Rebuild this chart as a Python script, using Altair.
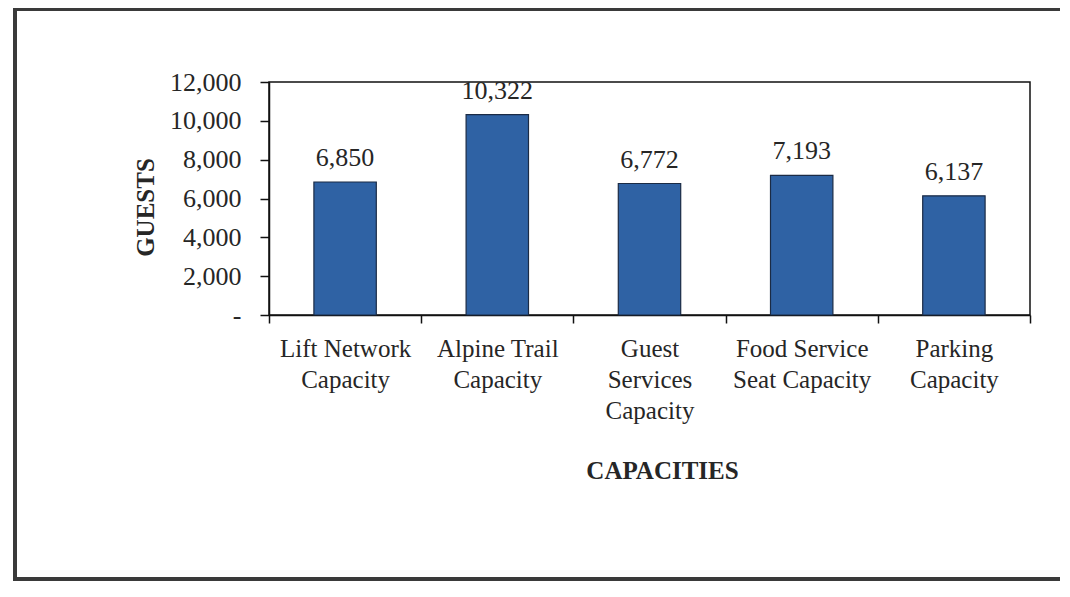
import altair as alt
import pandas as pd

categories = [
    "Lift Network|Capacity",
    "Alpine Trail|Capacity",
    "Guest|Services|Capacity",
    "Food Service|Seat Capacity",
    "Parking|Capacity",
]
guests = [6850, 10322, 6772, 7193, 6137]
y_ticks = [0, 2000, 4000, 6000, 8000, 10000, 12000]

df = pd.DataFrame({"cat": categories, "guests": guests})

FONT = "Liberation Serif"
TXT = "#262626"

x = alt.X(
    "cat:N",
    sort=categories,
    scale=alt.Scale(paddingInner=0, paddingOuter=0),
    axis=alt.Axis(
        title="CAPACITIES",
        labelAngle=0,
        labelExpr="split(datum.label, '|')",
        labelFont=FONT,
        labelFontSize=25,
        labelColor=TXT,
        labelLineHeight=31,
        labelPadding=13,
        labelBaseline="top",
        labelOverlap=False,
        tickBand="extent",
        tickSize=8,
        tickColor="#111",
        tickWidth=1.5,
        domainColor="#111",
        domainWidth=1.5,
        titleFont=FONT,
        titleFontSize=25,
        titleFontWeight="bold",
        titleColor=TXT,
        titleX=393,
        titleY=155,
        titleAlign="center",
        titleBaseline="middle",
    ),
)

y = alt.Y(
    "guests:Q",
    scale=alt.Scale(domain=[0, 12000], nice=False),
    axis=alt.Axis(
        title="GUESTS",
        values=y_ticks,
        tickCount=len(y_ticks),
        labelExpr="datum.value == 0 ? '-\u00a0\u00a0\u00a0' : format(datum.value, ',')",
        labelFont=FONT,
        labelFontSize=26,
        labelColor=TXT,
        labelPadding=19,
        labelOverlap=False,
        tickSize=9,
        tickColor="#111",
        tickWidth=1.5,
        domainColor="#111",
        domainWidth=1.5,
        grid=False,
        titleFont=FONT,
        titleFontSize=25,
        titleFontWeight="bold",
        titleColor=TXT,
        titleX=-124,
        titleY=125,
        titleAlign="center",
        titleBaseline="middle",
    ),
)

bars = alt.Chart(df).mark_bar(
    width=alt.RelativeBandSize(0.41),
    color="#2F62A4",
    stroke="#1b2b45",
    strokeWidth=1.2,
).encode(x=x, y=y)

labels = alt.Chart(df).mark_text(
    font=FONT, fontSize=26, color=TXT, baseline="alphabetic", dy=-16
).encode(
    x=alt.X("cat:N", sort=categories),
    y="guests:Q",
    text=alt.Text("guests:Q", format=","),
)

frame = alt.Chart(alt.Data(values=[{"k": 1}])).mark_rect(
    filled=False, stroke="#3a3a3a", strokeWidth=4
).encode(
    x=alt.value(-254),
    x2=alt.value(820),
    y=alt.value(-73),
    y2=alt.value(497),
)

chart = alt.layer(bars, labels, frame).properties(
    width=761,
    height=233,
    padding={"left": 261, "top": 74, "right": 30, "bottom": 268},
    autosize=alt.AutoSizeParams(type="none"),
    background="white",
).configure_view(stroke="#111", strokeWidth=1.5)

chart.save("out.html", embed_options={"renderer": "svg", "actions": False})
